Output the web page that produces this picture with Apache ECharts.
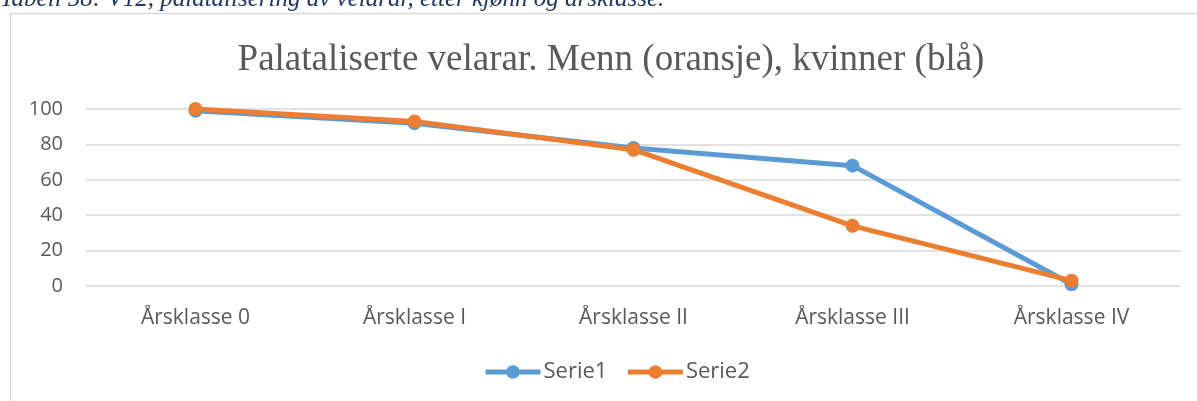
<!DOCTYPE html>
<html>
<head>
<meta charset="utf-8">
<script src="https://cdn.jsdelivr.net/npm/echarts@6/dist/echarts.min.js"></script>
<style>
  html, body { margin: 0; padding: 0; background: #fff; }
  #chart { width: 1197px; height: 401px; }
</style>
</head>
<body>
<div id="chart"></div>
<script>
// data
var categories = ['Årsklasse 0', 'Årsklasse I', 'Årsklasse II', 'Årsklasse III', 'Årsklasse IV'];
var serie1 = [99, 92, 78, 68, 1];   // kvinner (blå)
var serie2 = [100, 93, 77, 34, 3];  // menn (oransje)
var yTicks = [0, 20, 40, 60, 80, 100];

var chart = echarts.init(document.getElementById('chart'));
var labelFont = '"Open Sans", "DejaVu Sans", sans-serif';

var option = {
    animation: false,
    backgroundColor: '#fff',
    title: {
        text: 'Palataliserte velarar. Menn (oransje), kvinner (blå)',
        left: 606,
        textAlign: 'center',
        top: 37,
        textStyle: {
            fontFamily: '"Liberation Serif", serif',
            fontSize: 37,
            fontWeight: 'normal',
            color: '#595959'
        }
    },
    graphic: [{
        type: 'rect',
        shape: { x: 10.5, y: 13.5, width: 1200, height: 400 },
        style: { fill: 'none', stroke: '#d9d9d9', lineWidth: 1.5 },
        z: -1
    }, {
        type: 'text',
        x: 0,
        y: 12,
        style: {
            text: 'Tabell 58: V12, palatalisering av velarar, etter kjønn og årsklasse.',
            font: 'italic 25px "Liberation Serif", serif',
            fill: '#1f3864',
            verticalAlign: 'bottom'
        }
    }],
    legend: {
        top: 356,
        left: 478,
        itemWidth: 55,
        itemHeight: 17,
        itemGap: 18,
        lineStyle: { width: 5 },
        textStyle: { fontFamily: labelFont, fontSize: 22, color: '#595959', padding: [0, 0, 0, -2] },
        data: ['Serie1', 'Serie2']
    },
    grid: { left: 86, right: 16, top: 109, bottom: 115 },
    xAxis: {
        type: 'category',
        data: categories,
        boundaryGap: true,
        axisLine: { show: false },
        axisTick: { show: false },
        axisLabel: { fontFamily: labelFont, fontSize: 21, color: '#595959', margin: 22 }
    },
    yAxis: {
        type: 'value',
        min: yTicks[0],
        max: yTicks[yTicks.length - 1],
        interval: 20,
        axisLine: { show: false },
        axisTick: { show: false },
        axisLabel: { fontFamily: labelFont, fontSize: 20, color: '#595959', margin: 23 },
        splitLine: { lineStyle: { color: '#d9d9d9', width: 1.5 } }
    },
    series: [{
        name: 'Serie1',
        type: 'line',
        data: serie1,
        color: '#5b9bd5',
        symbol: 'circle',
        symbolSize: 14,
        lineStyle: { width: 5 }
    }, {
        name: 'Serie2',
        type: 'line',
        data: serie2,
        color: '#ed7d31',
        symbol: 'circle',
        symbolSize: 14,
        lineStyle: { width: 5 }
    }]
};
chart.setOption(option);
</script>
</body>
</html>
